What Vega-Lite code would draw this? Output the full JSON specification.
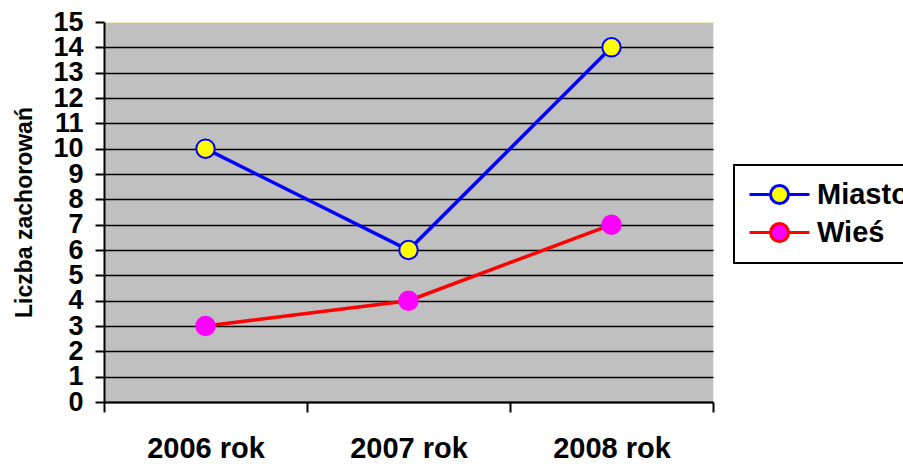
{
  "$schema": "https://vega.github.io/schema/vega-lite/v6.json",
  "width": 609,
  "height": 380,
  "autosize": {"type": "none"},
  "padding": {"left": 104, "top": 22, "right": 190, "bottom": 62},
  "background": "white",
  "config": {
    "font": "Liberation Sans",
    "view": {"fill": "#c0c0c0", "stroke": "#f0f0c0", "strokeWidth": 1}
  },
  "data": {
    "values": [
      {"rok": "2006 rok", "seria": "Miasto", "liczba": 10},
      {"rok": "2007 rok", "seria": "Miasto", "liczba": 6},
      {"rok": "2008 rok", "seria": "Miasto", "liczba": 14},
      {"rok": "2006 rok", "seria": "Wieś", "liczba": 3},
      {"rok": "2007 rok", "seria": "Wieś", "liczba": 4},
      {"rok": "2008 rok", "seria": "Wieś", "liczba": 7}
    ]
  },
  "encoding": {
    "x": {
      "field": "rok",
      "type": "ordinal",
      "scale": {"type": "band", "paddingInner": 0, "paddingOuter": 0},
      "axis": {
        "title": null,
        "labelAngle": 0,
        "tickBand": "extent",
        "tickSize": 10,
        "tickWidth": 2,
        "tickColor": "black",
        "domainColor": "black",
        "domainWidth": 2,
        "labelPadding": 22,
        "labelFontSize": 29,
        "labelFontWeight": "bold",
        "labelColor": "black",
        "grid": false
      }
    },
    "y": {
      "field": "liczba",
      "type": "quantitative",
      "scale": {"domain": [0, 15], "nice": false},
      "axis": {
        "title": "Liczba zachorowań",
        "titleFontSize": 23,
        "titleFontWeight": "bold",
        "titleColor": "black",
        "titlePadding": 16,
        "values": [0, 1, 2, 3, 4, 5, 6, 7, 8, 9, 10, 11, 12, 13, 14, 15],
        "grid": true,
        "gridColor": {"condition": {"test": "datum.value === 15", "value": "transparent"}, "value": "black"},
        "gridWidth": 1.5,
        "tickSize": 9,
        "tickWidth": 2,
        "tickColor": "black",
        "domainColor": "black",
        "domainWidth": 2,
        "labelFontSize": 27,
        "labelFontWeight": "bold",
        "labelColor": "black",
        "labelPadding": 12,
        "labelOverlap": false
      }
    }
  },
  "layer": [
    {
      "mark": {"type": "line", "strokeWidth": 3.5},
      "encoding": {
        "color": {
          "field": "seria",
          "type": "nominal",
          "scale": {"domain": ["Miasto", "Wieś"], "range": ["#0000ff", "#ff0000"]},
          "legend": {
            "title": null,
            "orient": "none",
            "legendX": 630,
            "legendY": 143,
            "strokeColor": "black",
            "fillColor": "white",
            "padding": 15,
            "symbolType": "M-3.33,0H-1M1,0H3.33M-1,0A1,1,0,1,1,1,0A1,1,0,1,1,-1,0Z",
            "symbolSize": 324,
            "symbolStrokeWidth": 3,
            "symbolOffset": 16,
            "labelOffset": 23,
            "labelFontSize": 29,
            "labelFontWeight": "bold",
            "labelColor": "black",
            "rowPadding": 7,
            "encode": {
              "legend": {"update": {"strokeWidth": {"value": 2}}},
              "symbols": {
                "update": {
                  "fill": {"signal": "datum.value === 'Miasto' ? '#ffff00' : '#ff00ff'"},
                  "fillOpacity": {"value": 1},
                  "strokeWidth": {"value": 3}
                }
              }
            }
          }
        }
      }
    },
    {
      "mark": {"type": "point", "filled": true, "size": 340, "strokeWidth": 2, "opacity": 1},
      "encoding": {
        "fill": {
          "field": "seria",
          "type": "nominal",
          "scale": {"domain": ["Miasto", "Wieś"], "range": ["#ffff00", "#ff00ff"]},
          "legend": null
        },
        "stroke": {
          "condition": {"test": "datum.seria === 'Miasto'", "value": "#0000ff"},
          "value": "#ff00ff"
        }
      }
    }
  ]
}
